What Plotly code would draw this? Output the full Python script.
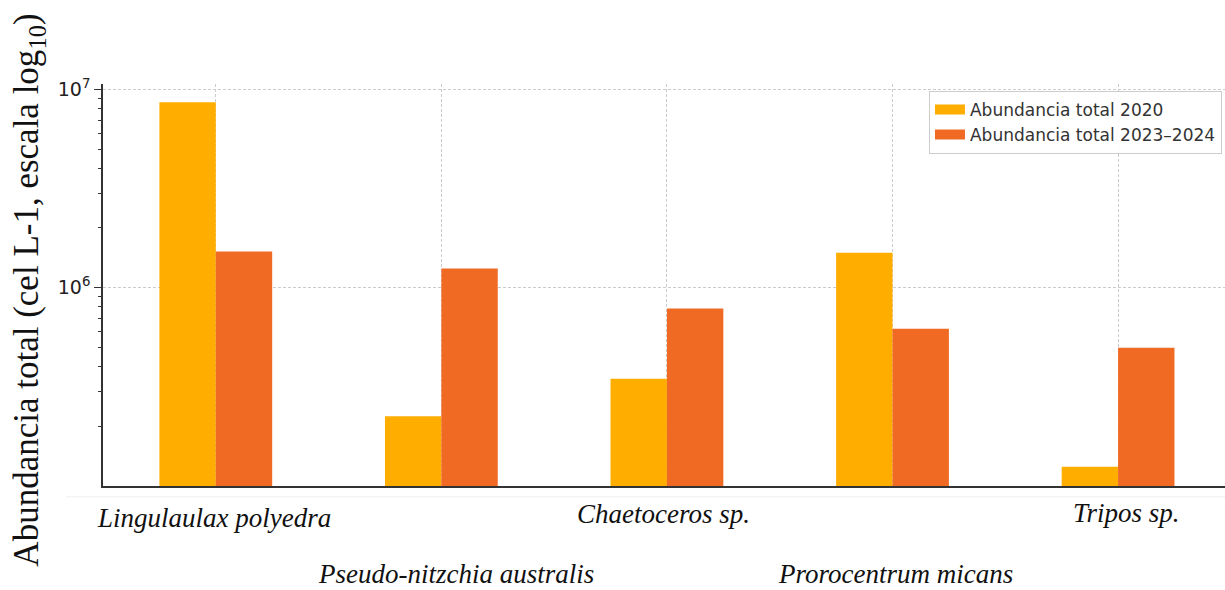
import plotly.graph_objects as go

# Species (x categories) and total abundance per period (cells per litre)
species = [
    "Lingulaulax polyedra",
    "Pseudo-nitzchia australis",
    "Chaetoceros sp.",
    "Prorocentrum micans",
    "Tripos sp.",
]
abund_2020 = [8.6e6, 2.25e5, 3.47e5, 1.50e6, 1.25e5]
abund_2023_2024 = [1.52e6, 1.25e6, 7.85e5, 6.2e5, 4.98e5]

series_names = ["Abundancia total 2020", "Abundancia total 2023–2024"]
series_colors = ["#FFAE00", "#F06A23"]

# Log-axis ticks
major_ticks = [1e6, 1e7]
major_text = ["10<sup>6</sup>", "10<sup>7</sup>"]
minor_ticks = [2e5, 3e5, 4e5, 5e5, 6e5, 7e5, 8e5, 9e5,
               2e6, 3e6, 4e6, 5e6, 6e6, 7e6, 8e6, 9e6]

# Species names sit on two staggered rows below the axis
label_y = [-0.080, -0.220, -0.070, -0.220, -0.068]
label_shift = [-2, 15, -3, 3, 8]

fig = go.Figure()
for name, vals, col in zip(series_names, [abund_2020, abund_2023_2024], series_colors):
    fig.add_trace(go.Bar(
        x=species, y=vals, name=name, legendgroup=name, showlegend=False,
        marker=dict(color=col, line=dict(width=0)),
    ))
    # wide legend swatch
    fig.add_trace(go.Scatter(
        x=[None], y=[None], mode="lines", name=name, legendgroup=name,
        line=dict(color=col, width=12), hoverinfo="skip",
    ))

# invisible points so the overlay axis with the minor log ticks gets drawn
fig.add_trace(go.Scatter(
    x=[species[0]] * len(minor_ticks), y=minor_ticks, yaxis="y2",
    mode="markers", marker=dict(opacity=0), showlegend=False, hoverinfo="skip",
))

for sp, ly, sh in zip(species, label_y, label_shift):
    fig.add_annotation(
        x=sp, xref="x", y=ly, yref="paper",
        text=f"<i>{sp}</i>", showarrow=False, xanchor="center", yanchor="middle",
        xshift=sh,
        font=dict(family="Liberation Serif", size=27, color="#111111"),
    )

# Vertical axis title
fig.add_annotation(
    x=0, xref="paper", y=0.486, yref="paper", xshift=-74,
    text="Abundancia total (cel L-1, escala log<sub>10</sub>)",
    textangle=-90, showarrow=False, xanchor="center", yanchor="middle",
    font=dict(family="Liberation Serif", size=35, color="#111111"),
)

# faint rule under the axis
fig.add_shape(type="line", xref="paper", yref="paper",
              x0=-0.033, x1=1, y0=-0.027, y1=-0.027,
              line=dict(color="#eeeeee", width=1))

fig.update_layout(
    width=1225, height=590,
    margin=dict(l=103, r=0, t=84, b=104),
    paper_bgcolor="white", plot_bgcolor="white",
    barmode="group", bargap=0.5, bargroupgap=0,
    showlegend=True,
    legend=dict(
        x=0.9973, y=0.983, xanchor="right", yanchor="top",
        bgcolor="rgba(255,255,255,0.9)", bordercolor="#cccccc", borderwidth=1,
        font=dict(family="DejaVu Sans", size=17, color="#333333"),
        tracegroupgap=0, itemwidth=30,
    ),
    xaxis=dict(
        range=[-0.5, 4.474], showticklabels=False,
        showgrid=True, gridcolor="#cccccc", griddash="3px,2px", gridwidth=1,
        showline=True, linecolor="#333333", linewidth=1.5,
        ticks="", zeroline=False,
    ),
    yaxis=dict(
        type="log", range=[5, 7.027],
        tickmode="array", tickvals=major_ticks, ticktext=major_text,
        tickfont=dict(family="DejaVu Sans", size=19, color="#222222"),
        ticks="outside", ticklen=7, tickwidth=1.2, tickcolor="#333333",
        showgrid=True, gridcolor="#cccccc", griddash="3px,2px", gridwidth=1,
        showline=True, linecolor="#333333", linewidth=1.5,
        zeroline=False,
    ),
    yaxis2=dict(
        type="log", range=[5, 7.027], overlaying="y", side="left", anchor="x",
        tickmode="array", tickvals=minor_ticks, showticklabels=False,
        ticks="outside", ticklen=4, tickwidth=1, tickcolor="#333333",
        showgrid=False, showline=False, zeroline=False,
    ),
)

fig.write_html("out.html")
